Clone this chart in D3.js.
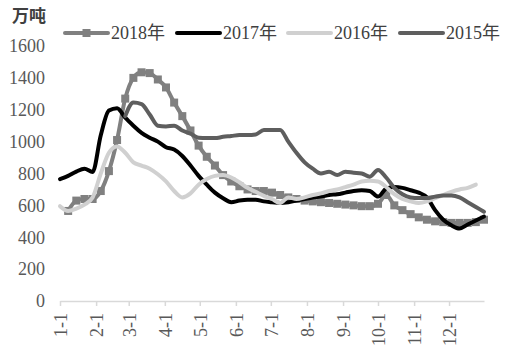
<!DOCTYPE html>
<html><head><meta charset="utf-8">
<script src="https://cdn.jsdelivr.net/npm/d3@7"></script>
<style>
body{margin:0;background:#fff;}
svg{display:block;}
</style></head>
<body><svg id="c" width="511" height="353"></svg>
<script>
// Weekly observations: index i = week i from Jan 1
const seriesNames = ["2018年","2017年","2016年","2015年"];
const v2018 = [null,565,630,640,640,690,815,1010,1270,1400,1435,1430,1390,1340,1245,1160,1070,975,905,850,790,750,720,700,690,690,680,665,650,640,630,625,620,615,610,605,600,595,595,610,665,600,570,545,525,510,500,495,490,490,490,495,510];
const v2017 = [765,785,812,830,810,1040,1195,1210,1150,1100,1055,1025,1000,965,950,910,850,785,730,680,645,620,630,635,635,625,620,615,620,630,640,650,655,665,670,680,690,695,690,655,705,715,710,695,680,650,570,510,475,455,480,505,530];
const v2016 = [595,565,580,605,650,800,930,970,930,870,850,830,795,750,690,650,675,730,765,785,790,775,745,710,685,660,640,615,650,640,650,665,675,690,700,715,730,750,755,750,715,670,640,625,615,625,645,665,685,700,710,730,null];
const v2015 = [null,null,null,null,null,null,null,null,1160,1245,1235,1170,1100,1095,1100,1070,1050,1025,1022,1022,1030,1035,1041,1041,1045,1073,1073,1073,1000,930,870,830,800,811,790,811,805,800,780,822,775,710,670,650,646,646,655,662,662,650,620,590,560];
const yTicks = [0,200,400,600,800,1000,1200,1400,1600];
const monthLabels = ["1-1","2-1","3-1","4-1","5-1","6-1","7-1","8-1","9-1","10-1","11-1","12-1"];
const colors = ["#808080","#000000","#d0d0d0","#5e5e5e"];

const svg = d3.select("#c");
const x = d3.scaleUtc().domain([new Date(Date.UTC(2018,0,1)), new Date(Date.UTC(2018,11,31))]).range([60,484]);
const y = d3.scaleLinear().domain([0,1600]).range([301,46]);
const weekDate = i => new Date(Date.UTC(2018,0,1+7*i));

// y labels
svg.append("g").selectAll("text").data(yTicks).join("text")
  .attr("x",45).attr("y",d=>y(d)).attr("dy","0.35em")
  .attr("text-anchor","end").attr("font-family","Liberation Serif, serif")
  .attr("font-size",18).attr("fill","#595959").text(d=>d);

// unit
svg.append("text").attr("x",12).attr("y",22).attr("font-family","Noto Sans CJK SC")
  .attr("font-weight","bold").attr("font-size",17).attr("fill","#404040").text("万吨");

// x axis
const monthDates = monthLabels.map((l,i)=>new Date(Date.UTC(2018,i,1)));
const xAxis = d3.axisBottom(x).tickValues(monthDates).tickSize(5).tickSizeOuter(0).tickFormat((d,i)=>monthLabels[i]);
const gx = svg.append("g").attr("transform","translate(0,301)").call(xAxis);
gx.select(".domain").attr("stroke","#d9d9d9").attr("stroke-width",1.5);
gx.selectAll(".tick line").attr("stroke","#d9d9d9").attr("stroke-width",1.5);
gx.selectAll(".tick text").attr("font-family","Liberation Serif, serif").attr("font-size",18)
  .attr("fill","#595959").attr("text-anchor","end").attr("transform","rotate(-90)")
  .attr("x",-12).attr("y",0).attr("dy","0.35em");

// lines
const all = [v2018,v2017,v2016,v2015];
const line = d3.line().defined(d=>d!=null).x((d,i)=>x(weekDate(i))).y(d=>y(d)).curve(d3.curveMonotoneX);
all.forEach((vals,si)=>{
  svg.append("path").datum(vals).attr("fill","none").attr("stroke",colors[si])
    .attr("stroke-width",4).attr("stroke-linejoin","round").attr("stroke-linecap","round")
    .attr("d",line);
  if(si===0){
    svg.append("g").selectAll("rect").data(vals.map((v,i)=>({v,i})).filter(d=>d.v!=null)).join("rect")
      .attr("x",d=>x(weekDate(d.i))-4).attr("y",d=>y(d.v)-4).attr("width",8).attr("height",8)
      .attr("fill",colors[0]);
  }
});

// legend
const legX = [65,177,288,400];
const lg = svg.append("g");
seriesNames.forEach((n,i)=>{
  lg.append("line").attr("x1",legX[i]).attr("x2",legX[i]+43).attr("y1",33).attr("y2",33)
    .attr("stroke",colors[i]).attr("stroke-width",4).attr("stroke-linecap","round");
  if(i===0) lg.append("rect").attr("x",legX[i]+21.5-4).attr("y",33-4).attr("width",8).attr("height",8).attr("fill",colors[0]);
  lg.append("text").attr("x",legX[i]+46).attr("y",33).attr("dy","0.35em")
    .attr("font-family","Liberation Serif, Noto Sans CJK SC, serif").attr("font-size",18)
    .attr("fill","#404040").text(n);
});
</script></body></html>
